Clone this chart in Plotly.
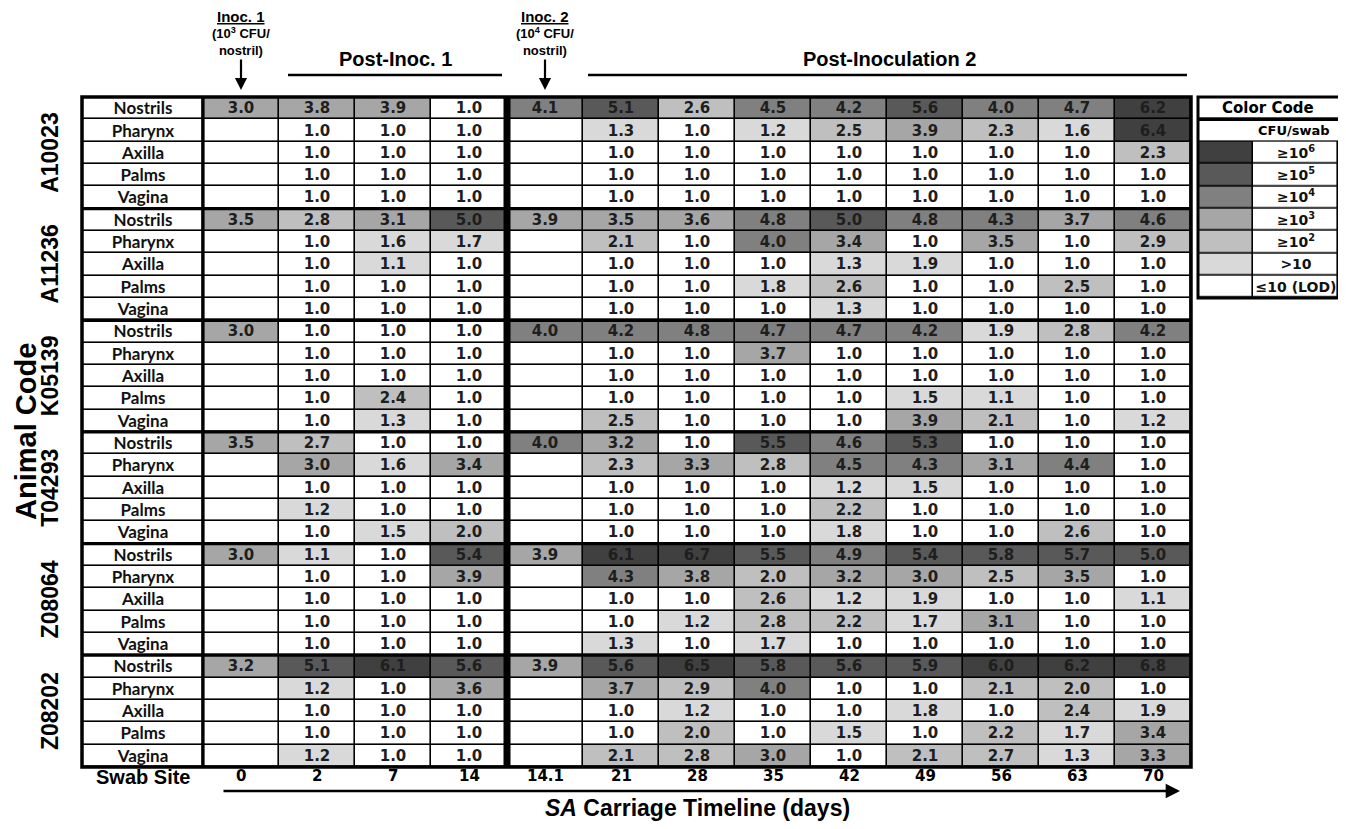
import plotly.graph_objects as go

# ---------------- data ----------------
days = ["0", "2", "7", "14", "14.1", "21", "28", "35", "42", "49", "56", "63", "70"]
animals = ["A10023", "A11236", "K05139", "T04293", "Z08064", "Z08202"]
sites = ["Nostrils", "Pharynx", "Axilla", "Palms", "Vagina"]
N = None

A10023 = [
    [3.0, 3.8, 3.9, 1.0, 4.1, 5.1, 2.6, 4.5, 4.2, 5.6, 4.0, 4.7, 6.2],
    [N, 1.0, 1.0, 1.0, N, 1.3, 1.0, 1.2, 2.5, 3.9, 2.3, 1.6, 6.4],
    [N, 1.0, 1.0, 1.0, N, 1.0, 1.0, 1.0, 1.0, 1.0, 1.0, 1.0, 2.3],
    [N, 1.0, 1.0, 1.0, N, 1.0, 1.0, 1.0, 1.0, 1.0, 1.0, 1.0, 1.0],
    [N, 1.0, 1.0, 1.0, N, 1.0, 1.0, 1.0, 1.0, 1.0, 1.0, 1.0, 1.0],
]
A11236 = [
    [3.5, 2.8, 3.1, 5.0, 3.9, 3.5, 3.6, 4.8, 5.0, 4.8, 4.3, 3.7, 4.6],
    [N, 1.0, 1.6, 1.7, N, 2.1, 1.0, 4.0, 3.4, 1.0, 3.5, 1.0, 2.9],
    [N, 1.0, 1.1, 1.0, N, 1.0, 1.0, 1.0, 1.3, 1.9, 1.0, 1.0, 1.0],
    [N, 1.0, 1.0, 1.0, N, 1.0, 1.0, 1.8, 2.6, 1.0, 1.0, 2.5, 1.0],
    [N, 1.0, 1.0, 1.0, N, 1.0, 1.0, 1.0, 1.3, 1.0, 1.0, 1.0, 1.0],
]
K05139 = [
    [3.0, 1.0, 1.0, 1.0, 4.0, 4.2, 4.8, 4.7, 4.7, 4.2, 1.9, 2.8, 4.2],
    [N, 1.0, 1.0, 1.0, N, 1.0, 1.0, 3.7, 1.0, 1.0, 1.0, 1.0, 1.0],
    [N, 1.0, 1.0, 1.0, N, 1.0, 1.0, 1.0, 1.0, 1.0, 1.0, 1.0, 1.0],
    [N, 1.0, 2.4, 1.0, N, 1.0, 1.0, 1.0, 1.0, 1.5, 1.1, 1.0, 1.0],
    [N, 1.0, 1.3, 1.0, N, 2.5, 1.0, 1.0, 1.0, 3.9, 2.1, 1.0, 1.2],
]
T04293 = [
    [3.5, 2.7, 1.0, 1.0, 4.0, 3.2, 1.0, 5.5, 4.6, 5.3, 1.0, 1.0, 1.0],
    [N, 3.0, 1.6, 3.4, N, 2.3, 3.3, 2.8, 4.5, 4.3, 3.1, 4.4, 1.0],
    [N, 1.0, 1.0, 1.0, N, 1.0, 1.0, 1.0, 1.2, 1.5, 1.0, 1.0, 1.0],
    [N, 1.2, 1.0, 1.0, N, 1.0, 1.0, 1.0, 2.2, 1.0, 1.0, 1.0, 1.0],
    [N, 1.0, 1.5, 2.0, N, 1.0, 1.0, 1.0, 1.8, 1.0, 1.0, 2.6, 1.0],
]
Z08064 = [
    [3.0, 1.1, 1.0, 5.4, 3.9, 6.1, 6.7, 5.5, 4.9, 5.4, 5.8, 5.7, 5.0],
    [N, 1.0, 1.0, 3.9, N, 4.3, 3.8, 2.0, 3.2, 3.0, 2.5, 3.5, 1.0],
    [N, 1.0, 1.0, 1.0, N, 1.0, 1.0, 2.6, 1.2, 1.9, 1.0, 1.0, 1.1],
    [N, 1.0, 1.0, 1.0, N, 1.0, 1.2, 2.8, 2.2, 1.7, 3.1, 1.0, 1.0],
    [N, 1.0, 1.0, 1.0, N, 1.3, 1.0, 1.7, 1.0, 1.0, 1.0, 1.0, 1.0],
]
Z08202 = [
    [3.2, 5.1, 6.1, 5.6, 3.9, 5.6, 6.5, 5.8, 5.6, 5.9, 6.0, 6.2, 6.8],
    [N, 1.2, 1.0, 3.6, N, 3.7, 2.9, 4.0, 1.0, 1.0, 2.1, 2.0, 1.0],
    [N, 1.0, 1.0, 1.0, N, 1.0, 1.2, 1.0, 1.0, 1.8, 1.0, 2.4, 1.9],
    [N, 1.0, 1.0, 1.0, N, 1.0, 2.0, 1.0, 1.5, 1.0, 2.2, 1.7, 3.4],
    [N, 1.2, 1.0, 1.0, N, 2.1, 2.8, 3.0, 1.0, 2.1, 2.7, 1.3, 3.3],
]
animal_values = [A10023, A11236, K05139, T04293, Z08064, Z08202]

legend_labels = ["≥10<sup>6</sup>", "≥10<sup>5</sup>", "≥10<sup>4</sup>", "≥10<sup>3</sup>",
                 "≥10<sup>2</sup>", ">10", "≤10 (LOD)"]
legend_levels = [6, 5, 4, 3, 2, 1, 0]
level_colors = ["#ffffff", "#d9d9d9", "#bfbfbf", "#a6a6a6", "#808080", "#595959", "#404040"]

# ---------------- geometry helpers (screen pixel -> axis units) ----------------
# the page body has an 8px margin, so the figure is 16px smaller than the window
PAGE_M = 8
FIG_W, FIG_H = 1346 - 2 * PAGE_M, 829 - 2 * PAGE_M
PX0, CW, TOP, RH = 203.0, 76.0, 97.0, 22.33
def ux(px):
    return (px - PX0) / CW
def uy(py):
    return (py - TOP) / RH

def level(v):
    if v is None or v <= 1.0:
        return 0
    if v < 2:
        return 1
    return min(int(v), 6)

rows_vals = [r for a in animal_values for r in a]
z = [[level(v) for v in r] for r in rows_vals]
txt = [["" if v is None else f"{v:.1f}" for v in r] for r in rows_vals]
nrows = len(rows_vals)
ncols = len(days)

cs = []
for k, c in enumerate(level_colors):
    cs.append([k / 7, c])
    cs.append([(k + 1) / 7, c])

fig = go.Figure()

LBL_L = ux(82)
fig.add_trace(go.Heatmap(
    z=z, x=list(range(ncols + 1)), y=list(range(nrows + 1)),
    text=txt, texttemplate="%{text}",
    textfont=dict(family="DejaVu Sans", size=15, color="#1e1e1e", weight="bold"),
    colorscale=cs, zmin=-0.5, zmax=6.5, showscale=False,
    xgap=1.6, ygap=1.6, hoverinfo="skip"))
fig.add_trace(go.Heatmap(
    z=[[0] for _ in range(nrows)], x=[LBL_L, 0], y=list(range(nrows + 1)),
    text=[[sites[i % len(sites)]] for i in range(nrows)], texttemplate="%{text}",
    textfont=dict(family="Lato", size=17, color="#111111", weight="bold"),
    colorscale=cs, zmin=-0.5, zmax=6.5, showscale=False,
    xgap=1.6, ygap=1.6, hoverinfo="skip"))

LG_L, LG_M, LG_R = ux(1198), ux(1253), ux(1338)
fig.add_trace(go.Heatmap(
    z=[[lv, 0] for lv in legend_levels], x=[LG_L, LG_M, LG_R], y=list(range(2, 2 + len(legend_levels) + 1)),
    text=[["", lab] for lab in legend_labels], texttemplate="%{text}",
    textfont=dict(family="DejaVu Sans", size=14, color="#111111", weight="bold"),
    colorscale=cs, zmin=-0.5, zmax=6.5, showscale=False,
    xgap=1.6, ygap=1.6, hoverinfo="skip"))
fig.add_trace(go.Heatmap(
    z=[[0], [0]], x=[LG_L, ux(1352)], y=[0, 1, 2],
    colorscale=cs, zmin=-0.5, zmax=6.5, showscale=False,
    xgap=1.6, ygap=1.6, hoverinfo="skip"))

shapes = []
shapes.append(dict(type="rect", xref="x", yref="y", x0=LBL_L, x1=ncols, y0=0, y1=nrows,
                   fillcolor="black", line=dict(width=0), layer="below"))
shapes.append(dict(type="rect", xref="x", yref="y", x0=LG_L, x1=ux(1352), y0=0, y1=9,
                   fillcolor="black", line=dict(width=0), layer="below"))
for g in range(1, len(animals)):
    shapes.append(dict(type="line", xref="x", yref="y", x0=LBL_L, x1=ncols, y0=5 * g, y1=5 * g,
                       line=dict(color="black", width=3.2)))
shapes.append(dict(type="line", xref="x", yref="y", x0=0, x1=0, y0=0, y1=nrows,
                   line=dict(color="black", width=3.2)))
shapes.append(dict(type="line", xref="x", yref="y", x0=4, x1=4, y0=0, y1=nrows,
                   line=dict(color="black", width=7)))
shapes.append(dict(type="rect", xref="x", yref="y", x0=LBL_L, x1=ncols, y0=0, y1=nrows,
                   line=dict(color="black", width=3.5)))
shapes.append(dict(type="line", xref="x", yref="y", x0=LG_L, x1=ux(1352), y0=1, y1=1,
                   line=dict(color="black", width=3.2)))
shapes.append(dict(type="rect", xref="x", yref="y", x0=LG_L, x1=ux(1352), y0=0, y1=9,
                   line=dict(color="black", width=3)))
shapes.append(dict(type="line", xref="x", yref="y", x0=ux(288), x1=ux(502), y0=uy(75), y1=uy(75),
                   line=dict(color="black", width=2.5)))
shapes.append(dict(type="line", xref="x", yref="y", x0=ux(588), x1=ux(1187), y0=uy(75), y1=uy(75),
                   line=dict(color="black", width=2.5)))

ann = []
HF = "Liberation Sans, Arial, sans-serif"
NF = "Liberation Sans Narrow, Liberation Sans, Arial, sans-serif"
for i, a in enumerate(animals):
    ann.append(dict(x=ux(50), y=5 * i + 2.5, xref="x", yref="y", text=a, textangle=-90,
                    showarrow=False, font=dict(family=HF, size=23, color="black", weight="bold")))
ann.append(dict(x=ux(26), y=nrows / 2, xref="x", yref="y", text="Animal Code", textangle=-90,
                showarrow=False, font=dict(family=HF, size=29, color="black", weight="bold")))
for j, d in enumerate(days):
    ann.append(dict(x=j + 0.5, y=uy(776), xref="x", yref="y", text=d, showarrow=False,
                    font=dict(family="DejaVu Sans", size=15, color="black", weight="bold")))
ann.append(dict(x=(LBL_L + 0) / 2, y=uy(777), xref="x", yref="y", text="Swab Site", showarrow=False,
                font=dict(family=HF, size=20, color="black", weight="bold")))
ann.append(dict(x=ux(1180), y=uy(791), ax=ux(222), ay=uy(791), xref="x", yref="y", axref="x", ayref="y",
                text="", showarrow=True, arrowhead=2, arrowsize=1.1, arrowwidth=2.6, arrowcolor="black"))
ann.append(dict(x=ncols / 2, y=uy(808), xref="x", yref="y", text="<i>SA</i> Carriage Timeline (days)",
                showarrow=False, font=dict(family=HF, size=23, color="black", weight="bold")))
for col, lab, dose in [(0, "Inoc. 1", "(10<sup>3</sup> CFU/<br>nostril)"), (4, "Inoc. 2", "(10<sup>4</sup> CFU/<br>nostril)")]:
    ann.append(dict(x=col + 0.5, y=uy(16), xref="x", yref="y", text="<u>" + lab + "</u>", showarrow=False,
                    font=dict(family=NF, size=15, color="black", weight="bold")))
    ann.append(dict(x=col + 0.5, y=uy(41), xref="x", yref="y", text=dose, showarrow=False,
                    font=dict(family=NF, size=13, color="black", weight="bold")))
    ann.append(dict(x=col + 0.5, y=uy(90), ax=col + 0.5, ay=uy(58), xref="x", yref="y", axref="x", ayref="y",
                    text="", showarrow=True, arrowhead=2, arrowsize=1.1, arrowwidth=2.2, arrowcolor="black"))
ann.append(dict(x=ux(395), y=uy(59), xref="x", yref="y", text="Post-Inoc. 1", showarrow=False,
                font=dict(family=HF, size=20, color="black", weight="bold")))
ann.append(dict(x=ux(889), y=uy(59), xref="x", yref="y", text="Post-Inoculation 2", showarrow=False,
                font=dict(family=HF, size=20, color="black", weight="bold")))
ann.append(dict(x=ux(1268), y=0.5, xref="x", yref="y", text="Color Code", showarrow=False,
                font=dict(family="DejaVu Sans", size=15, color="black", weight="bold")))
ann.append(dict(x=ux(1294), y=1.5, xref="x", yref="y", text="CFU/swab", showarrow=False,
                font=dict(family="DejaVu Sans", size=13, color="black", weight="bold")))

fig.update_layout(
    width=FIG_W, height=FIG_H, margin=dict(l=0, r=0, t=0, b=0),
    paper_bgcolor="white", plot_bgcolor="white",
    xaxis=dict(range=[ux(PAGE_M), ux(1346 - PAGE_M)], visible=False, fixedrange=True),
    yaxis=dict(range=[uy(829 - PAGE_M), uy(PAGE_M)], visible=False, fixedrange=True),
    shapes=shapes, annotations=ann, showlegend=False,
)
fig.write_html("out.html")
